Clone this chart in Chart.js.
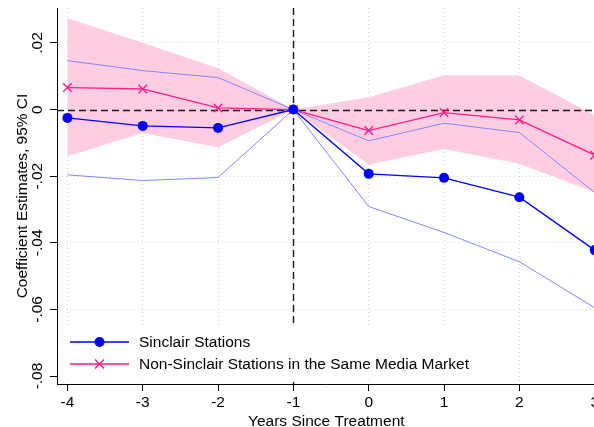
<!DOCTYPE html>
<html><head><meta charset="utf-8">
<script src="https://cdn.jsdelivr.net/npm/chart.js@4.4.0/dist/chart.umd.min.js"></script>
<style>
html,body{margin:0;padding:0;background:#fff;overflow:hidden;width:594px;height:427px}
#wrap{position:relative;width:603px;height:427px}
</style>
</head><body>
<div id="wrap"><canvas id="c" width="603" height="427"></canvas></div>
<script>
const years = [-4, -3, -2, -1, 0, 1, 2, 3];
const xTickLabels = ['-4', '-3', '-2', '-1', '0', '1', '2', '3'];
const yTickValues = [0.02, 0, -0.02, -0.04, -0.06, -0.08];
const yTickLabels = ['.02', '0', '-.02', '-.04', '-.06', '-.08'];
const seriesNames = ['Sinclair Stations', 'Non-Sinclair Stations in the Same Media Market'];
const sinclair = [-0.0025, -0.0049, -0.0055, 0, -0.0193, -0.0205, -0.0263, -0.0422];
const sinclairUpper = [0.0147, 0.0117, 0.0096, 0, -0.0094, -0.0041, -0.0069, -0.0249];
const sinclairLower = [-0.0196, -0.0213, -0.0204, 0, -0.0291, -0.0369, -0.0457, -0.0595];
const nonSinclair = [0.0066, 0.0062, 0.0005, 0, -0.0063, -0.0009, -0.0031, -0.0137];
const nonSinclairUpper = [0.0274, 0.0201, 0.0124, 0, 0.0037, 0.0103, 0.0102, -0.0017];
const nonSinclairLower = [-0.0140, -0.0070, -0.0113, 0, -0.0165, -0.0118, -0.0163, -0.0248];

const FONT = {family: '"Liberation Sans", Arial, sans-serif', size: 15.5};
const pts = arr => years.map((x, i) => ({x: x, y: arr[i]}));
const BLUE = '#0000ff', PINK = '#ff1a8c', LIGHTBLUE = '#8484ff', BAND = 'rgb(255,205,226)';

const refLines = {
  id: 'refLines',
  afterDatasetDraw(chart, args) {
    if (args.index !== 4) return;
    const {ctx, chartArea, scales} = chart;
    const x0 = Math.round(scales.x.getPixelForValue(-1)) + 0.5;
    const y0 = Math.round(scales.y.getPixelForValue(0)) + 0.5;
    ctx.save();
    ctx.strokeStyle = '#1a1a1a';
    ctx.lineWidth = 1.4;
    ctx.setLineDash([7, 4]);
    ctx.beginPath();
    ctx.moveTo(chartArea.left, y0); ctx.lineTo(chartArea.right, y0);
    ctx.moveTo(x0, chartArea.top); ctx.lineTo(x0, chartArea.bottom);
    ctx.stroke();
    ctx.restore();
  }
};

const insideLegend = {
  id: 'insideLegend',
  afterDraw(chart) {
    const {ctx, chartArea} = chart;
    ctx.save();
    ctx.fillStyle = '#fff';
    ctx.fillRect(chartArea.left + 1, 327, 447, 52);
    seriesNames.forEach((name, i) => {
      const ds = chart.data.datasets[i];
      const y = 342 + i * 22;
      const lx0 = chartArea.left + 13, lx1 = chartArea.left + 72, mx = (lx0 + lx1) / 2;
      ctx.setLineDash([]);
      ctx.strokeStyle = ds.borderColor;
      ctx.lineWidth = ds.borderWidth;
      ctx.beginPath(); ctx.moveTo(lx0, y); ctx.lineTo(lx1, y); ctx.stroke();
      if (ds.pointStyle === 'circle') {
        ctx.fillStyle = ds.pointBackgroundColor;
        ctx.beginPath(); ctx.arc(mx, y, ds.pointRadius, 0, Math.PI * 2); ctx.fill();
      } else {
        const r = ds.pointRadius * 0.75;
        ctx.strokeStyle = ds.pointBorderColor;
        ctx.lineWidth = ds.pointBorderWidth;
        ctx.beginPath();
        ctx.moveTo(mx - r, y - r); ctx.lineTo(mx + r, y + r);
        ctx.moveTo(mx - r, y + r); ctx.lineTo(mx + r, y - r);
        ctx.stroke();
      }
      ctx.fillStyle = '#000';
      ctx.font = FONT.size + 'px ' + FONT.family;
      ctx.textBaseline = 'middle';
      ctx.textAlign = 'left';
      ctx.fillText(name, chartArea.left + 82, y + 0.5);
    });
    ctx.restore();
  }
};

new Chart(document.getElementById('c'), {
  type: 'line',
  data: {
    datasets: [
      {label: seriesNames[0], data: pts(sinclair), borderColor: BLUE, borderWidth: 1.3,
       pointStyle: 'circle', pointRadius: 5, pointBackgroundColor: BLUE, pointBorderColor: BLUE,
       pointBorderWidth: 0, fill: false, tension: 0},
      {label: seriesNames[1], data: pts(nonSinclair), borderColor: PINK, borderWidth: 1.3,
       pointStyle: 'crossRot', pointRadius: 6, pointBorderColor: PINK, pointBorderWidth: 1.4,
       fill: false, tension: 0},
      {label: 'Sinclair upper', data: pts(sinclairUpper), borderColor: LIGHTBLUE, borderWidth: 1,
       pointRadius: 0, fill: false, tension: 0},
      {label: 'Sinclair lower', data: pts(sinclairLower), borderColor: LIGHTBLUE, borderWidth: 1,
       pointRadius: 0, fill: false, tension: 0},
      {label: 'Non-Sinclair upper', data: pts(nonSinclairUpper), borderWidth: 0, borderColor: BAND,
       backgroundColor: BAND, pointRadius: 0, fill: '+1', tension: 0},
      {label: 'Non-Sinclair lower', data: pts(nonSinclairLower), borderWidth: 0, borderColor: BAND,
       pointRadius: 0, fill: false, tension: 0}
    ]
  },
  options: {
    responsive: false,
    animation: false,
    events: [],
    layout: {padding: {top: 8, left: 0, right: 0, bottom: 0}},
    plugins: {legend: {display: false}, tooltip: {enabled: false}},
    scales: {
      x: {
        type: 'linear', min: -4.138, max: 3.012,
        afterBuildTicks: s => { s.ticks = years.map(v => ({value: v})); },
        afterFit: s => { s.height = 43; s.paddingLeft = 0; s.paddingRight = 0; },
        ticks: {callback: (v, i) => xTickLabels[i], maxRotation: 0, minRotation: 0,
                padding: 2, font: FONT, color: '#000', autoSkip: false},
        grid: {color: '#d4d4d4', lineWidth: 1, tickColor: '#000', tickLength: 7, tickWidth: 1},
        border: {display: true, color: '#000', width: 1, dash: [1, 3]},
        title: {display: true, text: 'Years Since Treatment', font: FONT, color: '#000',
                padding: {top: 0, bottom: -4.5}}
      },
      y: {
        type: 'linear', min: -0.0824, max: 0.0305,
        afterBuildTicks: s => { s.ticks = yTickValues.map(v => ({value: v})); },
        afterFit: s => { s.width = 57; s.paddingTop = 0; s.paddingBottom = 0; },
        ticks: {callback: (v, i) => yTickLabels[i], minRotation: 90, maxRotation: 90,
                crossAlign: 'center', padding: -1.5, font: FONT, color: '#000', autoSkip: false},
        grid: {
          color: c => (c.tick && (c.tick.value === -0.08 || c.tick.value === 0)) ? 'rgba(0,0,0,0)' : '#d4d4d4',
          lineWidth: 1, tickColor: '#000', tickLength: 7, tickWidth: 1
        },
        border: {display: true, color: '#000', width: 1, dash: [1, 3]},
        title: {display: true, text: 'Coefficient Estimates, 95% CI', font: FONT, color: '#000',
                padding: {top: 13, bottom: 0}}
      }
    }
  },
  plugins: [refLines, insideLegend]
});
</script>
</body></html>
